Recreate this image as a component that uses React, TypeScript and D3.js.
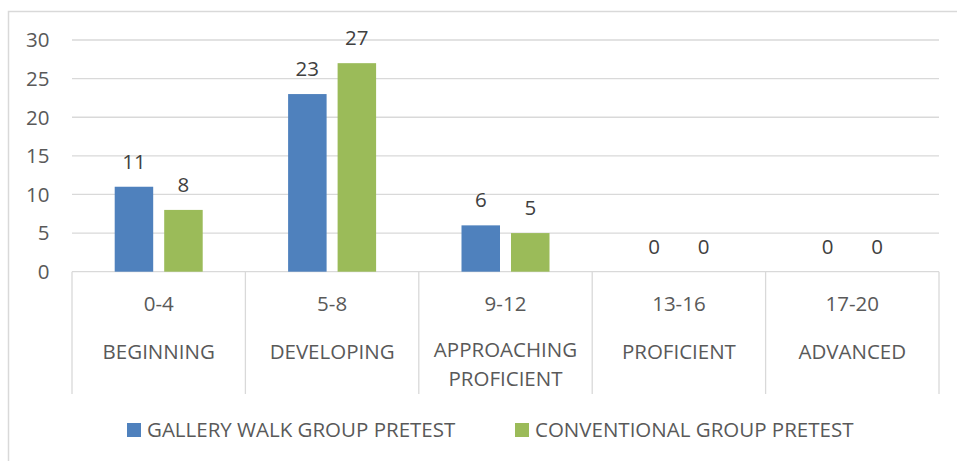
import React from "react";
import * as d3 from "d3";

const ranges = ["0-4", "5-8", "9-12", "13-16", "17-20"];
const levels = [["BEGINNING"], ["DEVELOPING"], ["APPROACHING", "PROFICIENT"], ["PROFICIENT"], ["ADVANCED"]];
const seriesNames = ["GALLERY WALK GROUP PRETEST", "CONVENTIONAL GROUP PRETEST"];
const galleryWalk = [11, 23, 6, 0, 0];
const conventional = [8, 27, 5, 0, 0];
const yTicks = [0, 5, 10, 15, 20, 25, 30];
const colors = ["#4F81BD", "#9BBB59"];

const W = 957;
const H = 461;
const FONT = "'Open Sans', sans-serif";
const FS = 20.5;
const TXT = "#595959";
const GRID = "#D9D9D9";

export default function App() {
  const x = d3.scaleBand<number>().domain(d3.range(ranges.length)).range([72, 939]).padding(0);
  const y = d3.scaleLinear().domain([0, 30]).range([271.7, 40]);
  const series = [galleryWalk, conventional];
  const barW = 38.5;
  const gap = 11;

  return (
    <svg width={W} height={H} style={{ position: "absolute", left: 0, top: 0 }}>
      <rect x={0} y={0} width={W} height={H} fill="#fff" />
      <rect x={8.5} y={11.5} width={W + 10} height={H + 10} fill="none" stroke={GRID} strokeWidth={1.5} />
      {yTicks.map((t) => (
        <g key={t}>
          {t > 0 && <line x1={72} x2={939} y1={y(t)} y2={y(t)} stroke={GRID} strokeWidth={1.3} />}
          <text x={49.5} y={y(t)} dy="0.36em" textAnchor="end" fontFamily={FONT} fontSize={FS} fill={TXT}>
            {t}
          </text>
        </g>
      ))}
      <line x1={72} x2={939} y1={y(0)} y2={y(0)} stroke={GRID} strokeWidth={1.3} />
      {d3.range(ranges.length + 1).map((i) => {
        const xx = i < ranges.length ? (x(i) as number) : 939;
        return <line key={i} x1={xx} x2={xx} y1={y(0)} y2={394} stroke={GRID} strokeWidth={1.3} />;
      })}
      {ranges.map((r, i) => {
        const cx = (x(i) as number) + x.bandwidth() / 2;
        const n = levels[i].length;
        return (
          <g key={r}>
            {series.map((s, k) => {
              const bx = k === 0 ? cx - gap / 2 - barW : cx + gap / 2;
              const v = s[i];
              return (
                <g key={k}>
                  {v > 0 && <rect x={bx} y={y(v)} width={barW} height={y(0) - y(v)} fill={colors[k]} />}
                  <text x={bx + barW / 2} y={y(v) - 18} textAnchor="middle" fontFamily={FONT} fontSize={FS} fill="#404040">
                    {v}
                  </text>
                </g>
              );
            })}
            <text x={cx} y={304} dy="0.36em" textAnchor="middle" fontFamily={FONT} fontSize={FS} fill={TXT}>
              {r}
            </text>
            {levels[i].map((l, j) => (
              <text key={j} x={cx} y={(n > 1 ? 349.5 : 351.5) + j * 29} dy="0.36em" textAnchor="middle" fontFamily={FONT} fontSize={FS} fill={TXT}>
                {l}
              </text>
            ))}
          </g>
        );
      })}
      {seriesNames.map((n, k) => {
        const lx = k === 0 ? 127 : 515;
        return (
          <g key={n}>
            <rect x={lx} y={423} width={14} height={14} fill={colors[k]} />
            <text x={lx + 20} y={430} dy="0.36em" fontFamily={FONT} fontSize={FS} fill={TXT}>
              {n}
            </text>
          </g>
        );
      })}
    </svg>
  );
}
